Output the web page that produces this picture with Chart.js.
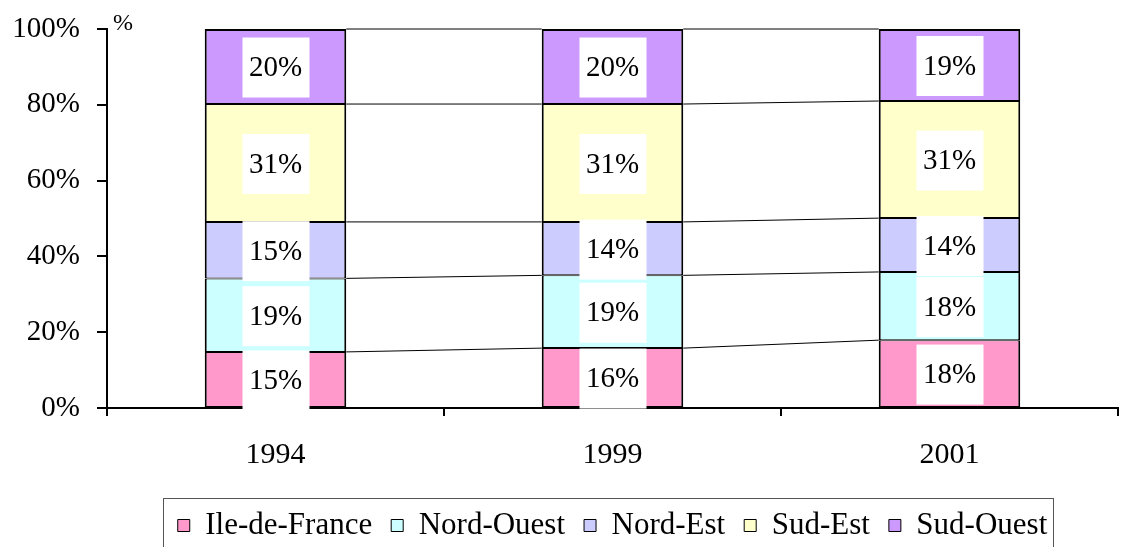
<!DOCTYPE html>
<html>
<head>
<meta charset="utf-8">
<script src="https://cdn.jsdelivr.net/npm/chart.js@4"></script>
<style>
  html, body { margin: 0; padding: 0; background: #fff; }
  #wrap { width: 1121px; height: 547px; }
</style>
</head>
<body>
<div id="wrap"><canvas id="regionChart" width="1121" height="547"></canvas></div>
<script>
const years = ["1994", "1999", "2001"];
const regions = ["Ile-de-France", "Nord-Ouest", "Nord-Est", "Sud-Est", "Sud-Ouest"];
const ileDeFrance = [14.8, 15.8, 17.9];
const nordOuest = [19.4, 19.2, 18.0];
const nordEst = [14.9, 14.1, 14.2];
const sudEst = [31.1, 31.1, 30.9];
const sudOuest = [19.8, 19.8, 19.0];
const yTicks = [0, 20, 40, 60, 80, 100];

const colors = ["#FF99CC", "#CCFFFF", "#CCCCFF", "#FFFFCC", "#CC99FF"];
const serif = "'Liberation Serif', 'DejaVu Serif', serif";

const datasets = [ileDeFrance, nordOuest, nordEst, sudEst, sudOuest].map((vals, idx) => ({
  label: regions[idx],
  data: vals,
  backgroundColor: colors[idx],
  borderColor: "#000",
  borderWidth: { left: 2, right: 2, top: idx === 4 ? 2 : 1, bottom: 1 },
  borderSkipped: false,
  barPercentage: 0.42,
  categoryPercentage: 1
}));

// series lines between bars (Excel style)
const seriesLines = {
  id: "seriesLines",
  afterDatasetsDraw(chart) {
    const ctx = chart.ctx;
    ctx.save();
    ctx.strokeStyle = "#000";
    ctx.lineWidth = 1;
    chart.data.datasets.forEach((ds, i) => {
      const els = chart.getDatasetMeta(i).data;
      for (let j = 0; j < els.length - 1; j++) {
        const a = els[j], b = els[j + 1];
        ctx.beginPath();
        ctx.moveTo(a.x + a.width / 2, a.y);
        ctx.lineTo(b.x - b.width / 2, b.y);
        ctx.stroke();
      }
    });
    ctx.restore();
  }
};

// white boxed value labels
const valueLabels = {
  id: "valueLabels",
  afterDatasetsDraw(chart) {
    const ctx = chart.ctx;
    ctx.save();
    ctx.font = "29px " + serif;
    ctx.textAlign = "center";
    ctx.textBaseline = "middle";
    chart.data.datasets.forEach((ds, i) => {
      chart.getDatasetMeta(i).data.forEach((el, j) => {
        const cy = (el.y + el.base) / 2 + 1;
        ctx.fillStyle = "#fff";
        ctx.fillRect(el.x - 33, cy - 30, 67, 60);
        ctx.fillStyle = "#000";
        ctx.fillText(Math.round(ds.data[j]) + "%", el.x, cy + 1);
      });
    });
    ctx.restore();
  }
};

// "%" unit and legend frame
const extras = {
  id: "extras",
  afterDraw(chart) {
    const ctx = chart.ctx;
    ctx.save();
    ctx.fillStyle = "#000";
    ctx.font = "24px " + serif;
    ctx.textAlign = "left";
    ctx.textBaseline = "middle";
    ctx.fillText("%", chart.chartArea.left + 6, 24);
    const hb = chart.legend.legendHitBoxes;
    const l = Math.min(...hb.map(h => h.left)) - 15;
    const r = Math.max(...hb.map(h => h.left + h.width)) + 5;
    const t = hb[0].top - 12;
    ctx.strokeStyle = "#555";
    ctx.lineWidth = 1;
    ctx.strokeRect(Math.round(l) + 0.5, Math.round(t) + 0.5, Math.round(r - l), 80);
    ctx.restore();
  }
};

new Chart(document.getElementById("regionChart"), {
  type: "bar",
  data: { labels: years, datasets },
  options: {
    responsive: false,
    animation: false,
    layout: { padding: { top: 29, right: 3, left: 12, bottom: -4 } },
    plugins: {
      legend: {
        position: "bottom",
        fullSize: false,
        labels: {
          color: "#000",
          font: { family: serif, size: 31 },
          boxWidth: 12,
          boxHeight: 12,
          padding: 19,
          generateLabels(chart) {
            return chart.data.datasets.map((ds, i) => ({
              text: ds.label,
              fillStyle: ds.backgroundColor,
              strokeStyle: "#000",
              lineWidth: 1,
              datasetIndex: i
            }));
          }
        }
      },
      tooltip: { enabled: false }
    },
    scales: {
      x: {
        stacked: true,
        afterFit(axis) { axis.height -= 3; },
        border: { color: "#000", width: 2 },
        grid: { offset: true, drawOnChartArea: false, tickLength: 8, color: "#000", lineWidth: 2 },
        ticks: { color: "#000", font: { family: serif, size: 30 }, padding: 21 }
      },
      y: {
        stacked: true,
        min: 0,
        max: 100,
        afterBuildTicks(axis) { axis.ticks = yTicks.map(v => ({ value: v })); },
        afterFit(axis) { axis.width = 95; axis.paddingTop = 0; axis.paddingBottom = 0; },
        border: { color: "#000", width: 2 },
        grid: { drawOnChartArea: false, tickLength: 10, color: "#000", lineWidth: 2 },
        ticks: { color: "#000", font: { family: serif, size: 29 }, padding: 17, callback: v => v + "%" }
      }
    }
  },
  plugins: [seriesLines, valueLabels, extras]
});
</script>
</body>
</html>
